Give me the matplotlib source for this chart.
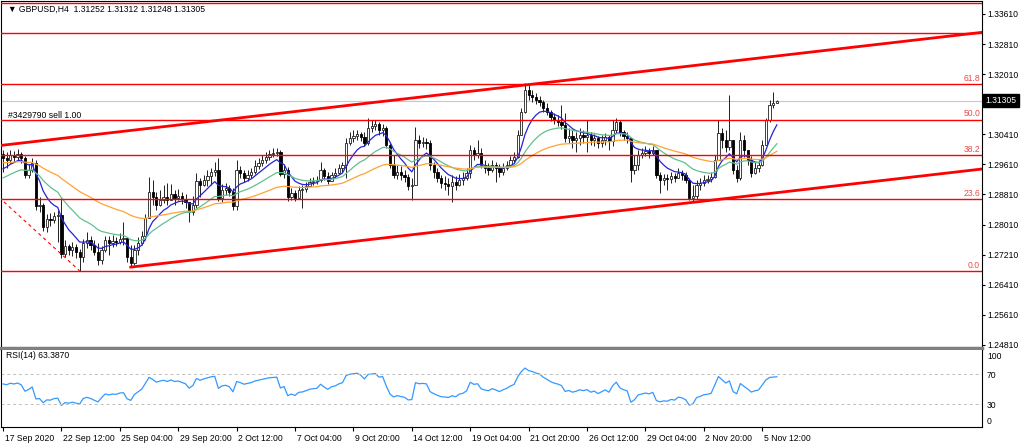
import numpy as np
import matplotlib.pyplot as plt
from matplotlib.transforms import ScaledTranslation, blended_transform_factory

plt.rcParams['font.family'] = ['Liberation Sans', 'DejaVu Sans']

# GBPUSD H4 candles (open = previous close)
first_open = 1.2989
close = [
    1.2978, 1.2972, 1.2986, 1.2981, 1.2989, 1.2978, 1.2933, 1.2946, 1.2965, 1.2850,
    1.2853, 1.2795, 1.2816, 1.2813, 1.2824, 1.2827, 1.2723, 1.2744, 1.2734, 1.2741,
    1.2728, 1.2715, 1.2752, 1.2760, 1.2747, 1.2728, 1.2707, 1.2734, 1.2760, 1.2752,
    1.2757, 1.2755, 1.2763, 1.2765, 1.2715, 1.2699, 1.2734, 1.2752, 1.2771, 1.2819,
    1.2888, 1.2874, 1.2853, 1.2866, 1.2874, 1.2866, 1.2882, 1.2872, 1.2877, 1.2869,
    1.2861, 1.2835, 1.2853, 1.2917, 1.2906, 1.2920, 1.2930, 1.2941, 1.2946, 1.2872,
    1.2893, 1.2898, 1.2888, 1.2850, 1.2946, 1.2938, 1.2925, 1.2933, 1.2941, 1.2957,
    1.2965, 1.2972, 1.2981, 1.2989, 1.2991, 1.2994, 1.2935, 1.2946, 1.2874, 1.2885,
    1.2872, 1.2893, 1.2896, 1.2904, 1.2914, 1.2917, 1.2920, 1.2946, 1.2930, 1.2917,
    1.2933, 1.2938, 1.2951, 1.2959, 1.3018, 1.3031, 1.3037, 1.3042, 1.3034, 1.3018,
    1.3058, 1.3063, 1.3068, 1.3053, 1.3058, 1.3013, 1.2959, 1.2933, 1.2941, 1.2933,
    1.2927, 1.2904, 1.2906, 1.3026, 1.3018, 1.3021, 1.3018, 1.2959, 1.2941, 1.2925,
    1.2912, 1.2909, 1.2904, 1.2914, 1.2906, 1.2920, 1.2925, 1.2938, 1.2999, 1.2986,
    1.2991, 1.2959, 1.2951, 1.2946, 1.2959, 1.2951, 1.2941, 1.2951, 1.2959, 1.2972,
    1.2981, 1.3039, 1.3100, 1.3159, 1.3145, 1.3140, 1.3132, 1.3127, 1.3111, 1.3100,
    1.3087, 1.3079, 1.3074, 1.3066, 1.3031, 1.3037, 1.3026, 1.3031, 1.3039, 1.3034,
    1.3039, 1.3026, 1.3031, 1.3018, 1.3026, 1.3034, 1.3023, 1.3053, 1.3074, 1.3047,
    1.3037, 1.3031, 1.2946, 1.2959, 1.2986, 1.2991, 1.2997, 1.2991, 1.2999, 1.2933,
    1.2920, 1.2925, 1.2922, 1.2930, 1.2925, 1.2938, 1.2933, 1.2920, 1.2872, 1.2877,
    1.2906, 1.2912, 1.2920, 1.2922, 1.2927, 1.2972, 1.3045, 1.3026, 1.3007, 1.3026,
    1.2946, 1.2925, 1.3026, 1.2999, 1.2972, 1.2938, 1.2951, 1.2959, 1.3013, 1.3079,
    1.3119, 1.31252, 1.31305,
]
high = [
    1.2999, 1.2994, 1.2999, 1.2997, 1.3002, 1.2994, 1.2983, 1.2962, 1.2978, 1.2972,
    1.2874, 1.2858, 1.2829, 1.2832, 1.2835, 1.2840, 1.2872, 1.2760, 1.2749, 1.2755,
    1.2749, 1.2736, 1.2763, 1.2781, 1.2771, 1.2760, 1.2752, 1.2744, 1.2771, 1.2771,
    1.2773, 1.2768, 1.2779, 1.2808, 1.2768, 1.2747, 1.2747, 1.2768, 1.2784, 1.2829,
    1.2927, 1.2920, 1.2888, 1.2893, 1.2906, 1.2912, 1.2909, 1.2893, 1.2896, 1.2888,
    1.2882, 1.2858, 1.2877, 1.2938, 1.2925, 1.2933, 1.2946, 1.2951, 1.2967, 1.2978,
    1.2909, 1.2912, 1.2906, 1.2898, 1.2972, 1.2957, 1.2946, 1.2946, 1.2951, 1.2972,
    1.2978, 1.2986, 1.2994, 1.2999, 1.3005, 1.3005, 1.2999, 1.2959, 1.2954, 1.2898,
    1.2893, 1.2904, 1.2906, 1.2914, 1.2925, 1.2927, 1.2930, 1.2967, 1.2951, 1.2941,
    1.2941, 1.2951, 1.2962, 1.2967, 1.3031, 1.3047, 1.3053, 1.3053, 1.3047, 1.3047,
    1.3085, 1.3079, 1.3079, 1.3074, 1.3068, 1.3063, 1.3018, 1.2986, 1.2959, 1.2957,
    1.2946, 1.2935, 1.2925, 1.3061, 1.3039, 1.3034, 1.3031, 1.3026, 1.2967, 1.2951,
    1.2933, 1.2930, 1.2925, 1.2933, 1.2930, 1.2935, 1.2941, 1.2951, 1.3013, 1.3007,
    1.3026, 1.3005, 1.2972, 1.2965, 1.2972, 1.2967, 1.2962, 1.2965, 1.2970, 1.2983,
    1.2994, 1.3053, 1.3111, 1.3177, 1.3175, 1.3159, 1.3151, 1.3143, 1.3132, 1.3124,
    1.3106, 1.3098, 1.3092, 1.3119, 1.3098, 1.3058, 1.3053, 1.3047, 1.3058, 1.3053,
    1.3079, 1.3047, 1.3042, 1.3037, 1.3039, 1.3045, 1.3039, 1.3079, 1.3085, 1.3079,
    1.3053, 1.3047, 1.3031, 1.2986, 1.2999, 1.3005, 1.3010, 1.3005, 1.3010, 1.2999,
    1.2941, 1.2935, 1.2935, 1.2941, 1.2938, 1.2951, 1.2946, 1.2941, 1.2925, 1.2906,
    1.2920, 1.2925, 1.2933, 1.2933, 1.2941, 1.2986, 1.3079, 1.3058, 1.3053, 1.3145,
    1.3013, 1.2959, 1.3047, 1.3039, 1.2999, 1.2983, 1.2967, 1.2972, 1.3026, 1.3085,
    1.3132, 1.3153, 1.31312,
]
low = [
    1.2941, 1.2951, 1.2965, 1.2967, 1.2972, 1.2965, 1.2925, 1.2925, 1.2941, 1.2840,
    1.2835, 1.2784, 1.2781, 1.2797, 1.2805, 1.2755, 1.2712, 1.2715, 1.2720, 1.2718,
    1.2712, 1.2678, 1.2702, 1.2739, 1.2734, 1.2720, 1.2694, 1.2696, 1.2728, 1.2720,
    1.2741, 1.2744, 1.2749, 1.2747, 1.2702, 1.2688, 1.2694, 1.2720, 1.2747, 1.2760,
    1.2819, 1.2853, 1.2840, 1.2850, 1.2858, 1.2853, 1.2866, 1.2853, 1.2866, 1.2856,
    1.2845, 1.2808, 1.2827, 1.2845, 1.2874, 1.2904, 1.2904, 1.2906, 1.2930, 1.2864,
    1.2861, 1.2880, 1.2877, 1.2840, 1.2840, 1.2925, 1.2914, 1.2917, 1.2925, 1.2935,
    1.2949, 1.2957, 1.2965, 1.2972, 1.2981, 1.2983, 1.2930, 1.2925, 1.2864, 1.2866,
    1.2864, 1.2872, 1.2845, 1.2888, 1.2904, 1.2906, 1.2909, 1.2914, 1.2920, 1.2909,
    1.2917, 1.2925, 1.2935, 1.2941, 1.2925, 1.3013, 1.3021, 1.3026, 1.3023, 1.3010,
    1.3013, 1.3047, 1.3053, 1.3039, 1.3037, 1.3005, 1.2951, 1.2925, 1.2922, 1.2920,
    1.2914, 1.2893, 1.2866, 1.2906, 1.3005, 1.3007, 1.3002, 1.2946, 1.2925, 1.2914,
    1.2898, 1.2893, 1.2880, 1.2861, 1.2893, 1.2904, 1.2906, 1.2920, 1.2925, 1.2972,
    1.2978, 1.2951, 1.2938, 1.2933, 1.2941, 1.2914, 1.2927, 1.2933, 1.2946, 1.2954,
    1.2965, 1.2978, 1.3039, 1.3098, 1.3132, 1.3127, 1.3122, 1.3116, 1.3100, 1.3092,
    1.3077, 1.3068, 1.3063, 1.3055, 1.3021, 1.3018, 1.3005, 1.2994, 1.3013, 1.3018,
    1.2994, 1.3013, 1.3010, 1.3005, 1.3007, 1.3013, 1.2999, 1.3010, 1.3045, 1.3037,
    1.3026, 1.3018, 1.2914, 1.2935, 1.2946, 1.2978, 1.2983, 1.2978, 1.2986, 1.2925,
    1.2885, 1.2906, 1.2893, 1.2912, 1.2914, 1.2925, 1.2920, 1.2912, 1.2866, 1.2864,
    1.2869, 1.2893, 1.2904, 1.2912, 1.2914, 1.2925, 1.2972, 1.3005, 1.2994, 1.2999,
    1.2935, 1.2914, 1.2920, 1.2981, 1.2959, 1.2927, 1.2935, 1.2941, 1.2957, 1.3013,
    1.3074, 1.3111, 1.31248,
]

# moving averages: period and value at the left edge of the chart
ma_periods = [8, 21, 50]
ma_seeds = [1.2941, 1.2920, 1.2965]
ma_colors = ['#2424D8', '#62C08E', '#FFA233']

time_ticks = [0, 16, 32, 48, 64, 80, 96, 112, 128, 144, 160, 176, 192, 208]
time_labels = ['17 Sep 2020', '22 Sep 12:00', '25 Sep 04:00', '29 Sep 20:00',
               '2 Oct 12:00', '7 Oct 04:00', '9 Oct 20:00', '14 Oct 12:00',
               '19 Oct 04:00', '21 Oct 20:00', '26 Oct 12:00', '29 Oct 04:00',
               '2 Nov 20:00', '5 Nov 12:00']
price_ticks = [1.33610, 1.32810, 1.32010, 1.31210, 1.30410, 1.29610,
               1.28810, 1.28010, 1.27210, 1.26410, 1.25610, 1.24810]

# fibonacci: low of 23 Sep (bar 21) and the high further left
fib_low, fib_low_bar = 1.2678, 21
fib_high, fib_high_bar = 1.3482, -70
fib_labelled = [0.0, 23.6, 38.2, 50.0, 61.8]
fib_unlabelled = [78.6, 88.6]

# channel: upper line through two highs, lower parallel from the 25 Sep low
chan_up = [(-1, 1.3011), (143, 1.3172)]
chan_low_start = (35, 1.2688)

rsi_levels = [70, 30]

c = np.array(close)
o = np.r_[first_open, c[:-1]]
h = np.maximum(np.array(high), np.maximum(o, c))
l = np.minimum(np.array(low), np.minimum(o, c))
x = np.arange(len(c))


def ema(vals, period, seed):
    a = 2.0 / (period + 1)
    out, prev = [], seed
    for v in vals:
        prev = prev + a * (v - prev)
        out.append(prev)
    return np.array(out)


def rsi(vals, start, period=14):
    d = np.diff(np.r_[start, vals])
    ag, al = 0.00144, 0.0010
    out = []
    for v in d:
        ag = (ag * (period - 1) + max(v, 0)) / period
        al = (al * (period - 1) + max(-v, 0)) / period
        out.append(100 * ag / (ag + al))
    return np.array(out)


W, H = 1024, 447
fig = plt.figure(figsize=(W / 100, H / 100), dpi=100)


def rect(x0, y0, x1, y1):
    return [x0 / W, 1 - y1 / H, (x1 - x0) / W, (y1 - y0) / H]


ax = fig.add_axes(rect(1, 1, 982, 348))
ax2 = fig.add_axes(rect(1, 350, 982, 427.3), sharex=ax)

xmin, xmax = -0.55, 268.2
ax.set_xlim(xmin, xmax)
ax.set_ylim(1.24730, 1.33953)

red = '#FF0000'
fs = 6.2

# candles
up = c >= o
ax.vlines(x, l, h, color='#202020', lw=0.7, zorder=2)
ax.bar(x[up], (c - o)[up], bottom=o[up], width=0.62, color='white',
       edgecolor='#202020', lw=0.6, zorder=3)
ax.bar(x[~up], (o - c)[~up], bottom=c[~up], width=0.62, color='black',
       edgecolor='black', lw=0.6, zorder=3)

for p, s, col in zip(ma_periods, ma_seeds, ma_colors):
    ax.plot(x, ema(c, p, s), color=col, lw=0.9, zorder=4)

# fibonacci levels
ytr = blended_transform_factory(ax.transAxes, ax.transData)
for lv in fib_labelled + fib_unlabelled:
    y = fib_low + (fib_high - fib_low) * lv / 100
    ax.axhline(y, color=red, lw=1.0, zorder=5)
    if lv in fib_labelled:
        ax.text(0.998, y + 0.00035, f'{lv:.1f}', transform=ytr, ha='right',
                va='bottom', color='#F04848', fontsize=fs, zorder=6)
ax.plot([fib_high_bar, fib_low_bar], [fib_high, fib_low], color=red, lw=0.8,
        dashes=(3, 3), zorder=5)

# channel lines
slope = (chan_up[1][1] - chan_up[0][1]) / (chan_up[1][0] - chan_up[0][0])
ax.plot([xmin - 1, xmax + 1],
        [chan_up[0][1] + slope * (xmin - 1 - chan_up[0][0]),
         chan_up[0][1] + slope * (xmax + 1 - chan_up[0][0])],
        color=red, lw=2.0, zorder=5)
ax.plot([chan_low_start[0], xmax + 1],
        [chan_low_start[1], chan_low_start[1] + slope * (xmax + 1 - chan_low_start[0])],
        color=red, lw=2.0, zorder=5)

# current price
last = c[-1]
ax.axhline(last, color='#C8C8C8', lw=0.8, zorder=1)
ax.text(1.0035, last, f'{last:.5f}', transform=ytr, ha='left', va='center',
        color='white', fontsize=fs, clip_on=False, zorder=10,
        bbox=dict(boxstyle='square,pad=0.25', fc='black', ec='black'))

ax.text(7 / 981, 0.977, '\u25bc GBPUSD,H4  1.31252 1.31312 1.31248 1.31305',
        transform=ax.transAxes, ha='left', va='center', fontsize=fs, color='black')
ax.text(7 / 981, 1.3092, '#3429790 sell 1.00', transform=ytr, ha='left',
        va='center', fontsize=fs, color='black', zorder=6)

ax.yaxis.tick_right()
ax.set_yticks(price_ticks)
# the tick label under the current-price box is hidden by it
ax.set_yticklabels(['' if abs(p - last) < 0.0015 else f'{p:.5f}' for p in price_ticks])
ax.tick_params(axis='y', length=2.5, width=0.8, pad=1.5, labelsize=fs)
ax.tick_params(axis='x', bottom=False, labelbottom=False)
for side in ['left', 'top', 'right']:
    ax.spines[side].set_linewidth(0.8)
ax.spines['bottom'].set_color('#808080')
ax.spines['bottom'].set_linewidth(2.5)

# RSI panel
r = rsi(c, first_open)
ax2.plot(x, r, color='#3399FF', lw=0.9)
for lv in rsi_levels:
    ax2.axhline(lv, color='#BEBEBE', lw=0.7, dashes=(3, 3))
ax2.set_ylim(-1.35, 102.7)
ax2.yaxis.tick_right()
ax2.set_yticks([100, 70, 30, 0])
ax2.set_yticklabels(['100', '70', '30', '0'])
ax2.tick_params(axis='y', length=0, pad=3.6, labelsize=fs)
labs = ax2.get_yticklabels()
labs[0].set_verticalalignment('top')
labs[-1].set_verticalalignment('bottom')
ax2.text(5 / 981, 0.93, 'RSI(14) 63.3870', transform=ax2.transAxes, ha='left',
         va='center', fontsize=fs, color='black')

ax2.set_xticks(time_ticks)
ax2.set_xticklabels(time_labels)
ax2.tick_params(axis='x', length=3, width=0.8, pad=1.5, labelsize=fs)
shift = ScaledTranslation(1.5 / 100, 0, fig.dpi_scale_trans)
for lab in ax2.get_xticklabels():
    lab.set_horizontalalignment('left')
    lab.set_transform(lab.get_transform() + shift)
ax2.spines['top'].set_visible(False)
for side in ['left', 'bottom', 'right']:
    ax2.spines[side].set_linewidth(0.8)

fig.savefig('out.png', dpi=100)
